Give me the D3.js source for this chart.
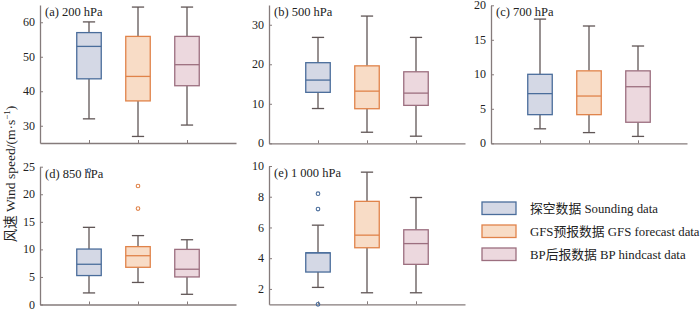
<!DOCTYPE html>
<html>
<head>
<meta charset="utf-8">
<script src="https://cdn.jsdelivr.net/npm/d3@7"></script>
<style>
  body { margin: 0; background: #fff; }
  svg { display: block; }
  text { font-family: "Liberation Serif", "Times New Roman", "Noto Sans CJK SC", serif; fill: #222; }
</style>
</head>
<body>
<div id="chart"></div>
<script>
// panel titles and series names
const panelTitles = ["(a) 200 hPa", "(b) 500 hPa", "(c) 700 hPa", "(d) 850 hPa", "(e) 1 000 hPa"];
const seriesNames = ["探空数据 Sounding data", "GFS预报数据 GFS forecast data", "BP后报数据 BP hindcast data"];

// y ranges and ticks per panel
const yDomains = [[25, 65], [0, 35], [0, 20], [0, 25], [1, 10]];
const yTicks = [[30, 40, 50, 60], [0, 10, 20, 30], [0, 5, 10, 15, 20], [0, 5, 10, 15, 20, 25], [2, 4, 6, 8, 10]];

// box stats per panel: [lower whisker, Q1, median, Q3, upper whisker]
const sounding = [[32.0, 43.6, 53.0, 57.0, 60.1], [8.8, 12.9, 16.0, 20.4, 26.8], [2.1, 4.15, 7.2, 10.0, 18.0], [2.1, 5.25, 7.3, 10.06, 14.0], [2.1, 3.1, 4.35, 4.35, 6.15]];
const gfs = [[26.9, 37.2, 44.3, 55.9, 64.4], [2.8, 8.75, 13.2, 19.6, 32.2], [1.55, 4.15, 6.85, 10.5, 17.0], [4.0, 6.75, 8.85, 10.5, 12.5], [1.75, 4.68, 5.5, 7.7, 9.6]];
const bp = [[30.2, 41.6, 47.7, 55.9, 64.4], [1.8, 9.6, 12.7, 18.1, 26.8], [1.0, 3.05, 8.2, 10.5, 14.1], [1.85, 5.0, 6.4, 10.0, 11.75], [1.75, 3.6, 4.95, 5.85, 7.95]];

// outliers per panel
const soundingOut = [[], [], [], [24.3], [8.2, 7.2, 1.0]];
const gfsOut = [[], [], [], [21.5, 17.4], []];
const bpOut = [[], [], [], [], []];

const strokes = ["#4a6d9b", "#e0834a", "#9c6f7f"];
const fills = ["#d4d8e5", "#f8dcc6", "#ecd8de"];
const whiskerColor = "#605656";
const axisColor = "#857b7b";

// panel frames [x0, x1, yTop, yBottom]
const frames = [[40, 236, 5, 143], [269, 465, 5, 143.3], [491, 687, 5.3, 143.3], [40, 236, 166.7, 304.5], [269, 465, 166, 304.3]];

const svg = d3.select("#chart").append("svg")
  .attr("width", 700).attr("height", 310);

const allStats = [sounding, gfs, bp];
const allOut = [soundingOut, gfsOut, bpOut];

frames.forEach((f, p) => {
  const x = d3.scaleLinear().domain([0, 4]).range([f[0], f[1]]);
  const y = d3.scaleLinear().domain(yDomains[p]).range([f[3], f[2]]);
  const g = svg.append("g");

  // axes
  const yAxis = g.append("g")
    .attr("transform", "translate(" + f[0] + ",0)")
    .call(d3.axisLeft(y).tickValues(yTicks[p]).tickSize(-3).tickSizeOuter(0).tickPadding(5));
  const xAxis = g.append("g")
    .attr("transform", "translate(0," + f[3] + ")")
    .call(d3.axisBottom(x).tickValues([1, 2, 3]).tickSize(-3).tickSizeOuter(0).tickFormat(""));
  [yAxis, xAxis].forEach(a => {
    a.select(".domain").attr("stroke", axisColor).attr("stroke-width", 1.3);
    a.selectAll(".tick line").attr("stroke", axisColor);
  });
  yAxis.selectAll(".tick text").attr("fill", "#222").style("font-size", "12px")
    .style("font-family", "'Liberation Serif', serif")
    .attr("dy", "0.3em");

  g.append("text")
    .attr("x", f[0] + 5).attr("y", f[2] + 11)
    .style("font-size", "12.5px")
    .text(panelTitles[p]);

  allStats.forEach((stats, s) => {
    const d = stats[p];
    const cx = x(s + 1);
    const hw = x(0.25) - x(0);
    const cw = x(0.125) - x(0);

    // whiskers
    g.append("line").attr("x1", cx).attr("x2", cx).attr("y1", y(d[4])).attr("y2", y(d[3]))
      .attr("stroke", whiskerColor).attr("stroke-width", 1.3);
    g.append("line").attr("x1", cx).attr("x2", cx).attr("y1", y(d[1])).attr("y2", y(d[0]))
      .attr("stroke", whiskerColor).attr("stroke-width", 1.3);
    g.append("line").attr("x1", cx - cw).attr("x2", cx + cw).attr("y1", y(d[4])).attr("y2", y(d[4]))
      .attr("stroke", whiskerColor).attr("stroke-width", 1.3);
    g.append("line").attr("x1", cx - cw).attr("x2", cx + cw).attr("y1", y(d[0])).attr("y2", y(d[0]))
      .attr("stroke", whiskerColor).attr("stroke-width", 1.3);

    // box
    g.append("rect")
      .attr("x", cx - hw).attr("width", 2 * hw)
      .attr("y", y(d[3])).attr("height", y(d[1]) - y(d[3]))
      .attr("fill", fills[s]).attr("stroke", strokes[s]).attr("stroke-width", 1.3);
    g.append("line").attr("x1", cx - hw).attr("x2", cx + hw).attr("y1", y(d[2])).attr("y2", y(d[2]))
      .attr("stroke", strokes[s]).attr("stroke-width", 1.3);

    // outliers
    g.selectAll(null).data(allOut[s][p]).enter().append("circle")
      .attr("cx", cx).attr("cy", v => y(v)).attr("r", 1.8)
      .attr("fill", "none").attr("stroke", strokes[s]).attr("stroke-width", 1.1);
  });
});

// y label
svg.append("text")
  .attr("transform", "translate(15,174) rotate(-90)")
  .attr("text-anchor", "middle")
  .style("font-size", "13.5px")
  .html('风速 Wind speed/(m·s<tspan dy="-5" font-size="9">−1</tspan><tspan dy="5">)</tspan>');

// legend
const legend = svg.append("g");
seriesNames.forEach((name, i) => {
  const ly = 202 + i * 23;
  legend.append("rect")
    .attr("x", 482).attr("y", ly).attr("width", 34).attr("height", 12.5)
    .attr("fill", fills[i]).attr("stroke", strokes[i]).attr("stroke-width", 1.3);
  legend.append("text")
    .attr("x", 530).attr("y", ly + 11)
    .style("font-size", "12.8px")
    .text(name);
});
</script>
</body>
</html>
